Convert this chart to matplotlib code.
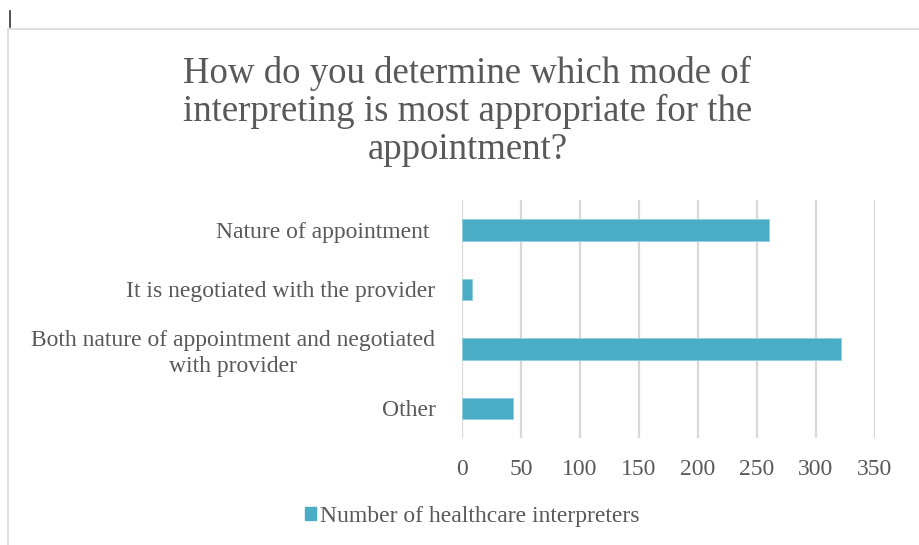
import matplotlib
matplotlib.use("Agg")
import matplotlib.pyplot as plt
from matplotlib.patches import Patch
from matplotlib.lines import Line2D

plt.rcParams['font.family'] = ['Liberation Serif', 'DejaVu Serif']

categories = ["Nature of appointment ", "It is negotiated with the provider",
              "Both nature of appointment and negotiated\nwith provider", "Other"]
counts = [260, 9, 321, 43]
xticks = [0, 50, 100, 150, 200, 250, 300, 350]
series_name = "Number of healthcare interpreters"
title = "How do you determine which mode of\ninterpreting is most appropriate for the\nappointment?"

bar_col = '#4bacc6'
txt_col = '#595959'
grid_col = '#d9d9d9'

fig = plt.figure(figsize=(9.2, 5.45), dpi=100)
ax = fig.add_axes([0.502, 0.196, 0.449, 0.437])

ypos = list(range(len(categories)))
ax.barh(ypos, counts, height=0.36, color=bar_col, edgecolor='#8fd0e0', linewidth=0.6, zorder=3)
ax.set_ylim(3.5, -0.5)
ax.set_xlim(0, 350)
ax.set_xticks(xticks)
ax.set_xticklabels([str(t) for t in xticks])
ax.set_yticks(ypos)
ax.set_yticklabels(categories, multialignment='center', linespacing=1.3)
ax.tick_params(axis='both', length=0, labelsize=17, labelcolor=txt_col)
ax.tick_params(axis='x', pad=15)
ax.tick_params(axis='y', pad=19)
ax.grid(axis='x', color=grid_col, lw=1.6, zorder=0)
for s in ax.spines.values():
    s.set_visible(False)

fig.text(0.508, 0.897, title, ha='center', va='top', fontsize=26.5, color=txt_col,
         linespacing=1.11)

fig.legend(handles=[Patch(color=bar_col)], labels=[series_name], loc='center',
           bbox_to_anchor=(0.513, 0.053), frameon=False, fontsize=17,
           labelcolor=txt_col, handlelength=0.5, handleheight=0.5, handletextpad=0.15)

# chart frame edges
fig.add_artist(Line2D([0.009, 1.0], [0.947, 0.947], color='#d9d9d9', lw=1.2))
fig.add_artist(Line2D([0.009, 0.009], [0.0, 0.947], color='#d9d9d9', lw=1.2))
fig.add_artist(Line2D([0.011, 0.011], [0.95, 0.98], color='#333333', lw=1.2))

fig.savefig("out.png", dpi=100)
